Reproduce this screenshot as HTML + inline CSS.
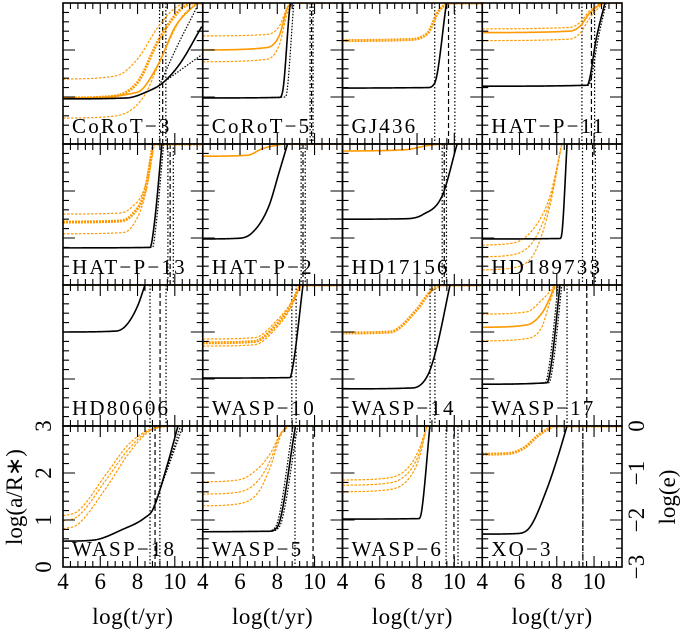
<!DOCTYPE html>
<html><head><meta charset="utf-8"><style>
body{margin:0;background:#fff;}
svg{display:block;font-family:"Liberation Serif",serif;}
</style></head><body>
<svg id="fig" width="683" height="633" viewBox="0 0 683 633"></svg>
<script>
const panelNames = ["CoRoT\u22123","CoRoT\u22125","GJ436","HAT\u2212P\u221211","HAT\u2212P\u221213","HAT\u2212P\u22122","HD17156","HD189733","HD80606","WASP\u221210","WASP\u221214","WASP\u221217","WASP\u221218","WASP\u22125","WASP\u22126","XO\u22123"];
const xTicks = [4,6,8,10];
const yLeftTicks = [0,1,2,3];
const yRightTicks = ["0","\u22121","\u22122","\u22123"];
const seriesCorot3 = [
 {k:"od",p:[[4,1.38],[6.85,1.45],[7.98,1.8],[9.12,2.5],[10.03,2.9],[10.6,3]]},
 {k:"ot",p:[[4,0.98],[6.28,1.0],[7.98,1.3],[9.12,2.2],[10.26,2.85],[10.83,3]]},
 {k:"o",p:[[4,0.97],[7.98,1.1],[9.12,1.7],[10.03,2.5],[11.17,3]]},
 {k:"od",p:[[4,0.55],[6.85,0.6],[8.32,1.0],[9.35,1.9],[10.37,2.7],[11.28,3]]},
 {k:"kd",p:[[9.18,1.25],[10.03,2.0],[11.17,2.9]]},
 {k:"kd",p:[[9.35,1.3],[11.45,1.9]]},
 {k:"k",p:[[4,0.96],[7.41,0.98],[8.55,1.12],[9.35,1.3],[10.26,1.7],[11.45,2.5]]}];
const seriesCorot5 = [
 {k:"o",p:[[4,2.0],[7.41,2.05],[8.1,2.3],[8.55,2.9],[8.78,3]]},
 {k:"od",p:[[4,2.3],[7.41,2.33],[8.1,2.5],[8.55,2.92],[8.7,3]]},
 {k:"od",p:[[4,1.75],[7.41,1.8],[8.1,2.1],[8.55,2.8],[8.84,3]]},
 {k:"kd",p:[[4,0.98],[8.44,1.0],[8.89,3]]},
 {k:"k",p:[[4,0.98],[8.1,0.99],[8.32,1.2],[8.67,2.9],[8.72,3]]}];
const seriesGJ436 = [
 {k:"ot",p:[[4,2.2],[7.41,2.22],[8.55,2.35],[9.12,2.8],[9.58,3]]},
 {k:"k",p:[[4,1.19],[8.55,1.2],[8.95,1.3],[9.58,3]]}];
const seriesHATP11 = [
 {k:"o",p:[[4,2.37],[8.67,2.4],[9.23,2.5],[9.8,2.8],[10.43,3]]},
 {k:"od",p:[[4,2.45],[8.67,2.48],[9.23,2.58],[9.8,2.85],[10.35,3]]},
 {k:"od",p:[[4,2.2],[8.67,2.23],[9.23,2.35],[9.8,2.7],[10.5,3]]},
 {k:"kd",p:[[4,1.23],[9.7,1.25],[9.85,1.4],[10.2,2.2],[10.65,3]]},
 {k:"k",p:[[4,1.23],[9.63,1.25],[9.77,1.4],[10.1,2.2],[10.58,3]]}];
const seriesHATP13 = [
 {k:"od",p:[[4,1.51],[7.0,1.53],[7.7,1.66],[8.4,2.1],[8.84,3]]},
 {k:"ot",p:[[4,1.34],[7.0,1.36],[7.7,1.49],[8.4,2.0],[8.84,3]]},
 {k:"od",p:[[4,1.09],[7.0,1.11],[7.7,1.24],[8.4,1.9],[8.9,3]]},
 {k:"kd",p:[[4,0.79],[8.8,0.8],[9.0,1.3],[9.4,3]]},
 {k:"k",p:[[4,0.79],[8.67,0.8],[8.9,1.3],[9.31,3]]}];
const seriesHATP2 = [
 {k:"o",p:[[4,2.74],[6.39,2.76],[7.2,2.9],[8.27,3]]},
 {k:"k",p:[[4,0.98],[5.71,0.99],[6.62,1.1],[7.53,1.66],[8.1,2.4],[8.55,3]]}];
const seriesHD17156 = [
 {k:"o",p:[[4,2.85],[7.41,2.88],[8.6,2.97],[9.35,3]]},
 {k:"k",p:[[4,1.4],[7.41,1.41],[8.32,1.5],[9.35,1.9],[10.15,3]]}];
const seriesHD189733 = [
 {k:"od",p:[[4,0.85],[5.71,0.9],[6.85,1.25],[7.64,1.9],[8.27,3]]},
 {k:"od",p:[[4,0.6],[5.71,0.65],[6.85,1.0],[7.64,1.8],[8.27,3]]},
 {k:"od",p:[[4,0.32],[5.71,0.37],[6.85,0.72],[7.64,1.7],[8.27,3]]},
 {k:"k",p:[[4,0.98],[8.18,0.99],[8.3,1.2],[8.55,3]]}];
const seriesHD80606 = [
 {k:"o",p:[[4,3],[8.4,3]]},
 {k:"k",p:[[4,2.0],[6.85,2.02],[7.41,2.15],[8.0,2.55],[8.4,3]]}];
const seriesWASP10 = [
 {k:"od",p:[[4,1.85],[6.79,1.88],[7.98,2.25],[8.7,2.6],[9.23,3]]},
 {k:"ot",p:[[4,1.77],[6.79,1.8],[7.98,2.17],[8.7,2.55],[9.23,3]]},
 {k:"od",p:[[4,1.7],[6.79,1.73],[7.98,2.1],[8.7,2.5],[9.23,3]]},
 {k:"k",p:[[4,1.02],[8.67,1.03],[8.85,1.3],[9.38,3]]}];
const seriesWASP14 = [
 {k:"ot",p:[[4,1.98],[6.55,2.0],[7.98,2.47],[8.7,2.85],[9.23,3]]},
 {k:"k",p:[[4,0.79],[7.76,0.81],[8.6,1.1],[9.06,1.68],[9.77,3]]}];
const seriesWASP17 = [
 {k:"od",p:[[4,2.38],[6.39,2.43],[7.2,2.68],[7.6,2.85],[7.9,3]]},
 {k:"o",p:[[4,2.1],[6.39,2.15],[7.2,2.4],[7.6,2.7],[7.9,3]]},
 {k:"od",p:[[4,1.81],[6.39,1.86],[7.2,2.11],[7.6,2.6],[7.95,3]]},
 {k:"kd",p:[[4,0.89],[7.37,0.92],[7.6,1.3],[8.07,3]]},
 {k:"kd",p:[[4,0.89],[7.57,0.92],[7.8,1.3],[8.27,3]]},
 {k:"k",p:[[4,0.89],[7.47,0.92],[7.7,1.3],[8.17,3]]}];
const seriesWASP18 = [
 {k:"od",p:[[4,1.09],[4.8,1.19],[6.36,2.0],[7.5,2.6],[8.6,2.92],[9.4,3]]},
 {k:"od",p:[[4,0.98],[4.8,1.08],[6.36,1.88],[7.5,2.5],[8.6,2.9],[9.5,3]]},
 {k:"od",p:[[4,0.81],[4.8,0.91],[6.36,1.71],[7.5,2.4],[8.6,2.88],[9.6,3]]},
 {k:"kd",p:[[8.83,1.23],[10.44,3]]},
 {k:"kd",p:[[8.83,1.23],[10.0,2.6],[10.3,3]]},
 {k:"k",p:[[4,0.55],[5.6,0.57],[7.2,0.8],[8.4,1.05],[8.83,1.23],[9.58,2.15],[10.17,3]]}];
const seriesWASP5 = [
 {k:"od",p:[[4,1.81],[6.0,1.86],[7.0,2.11],[7.6,2.4],[8.2,2.85],[8.55,3]]},
 {k:"od",p:[[4,1.55],[6.0,1.6],[7.0,1.85],[7.6,2.25],[8.2,2.85],[8.55,3]]},
 {k:"od",p:[[4,1.3],[6.0,1.35],[7.0,1.6],[7.6,2.1],[8.2,2.8],[8.6,3]]},
 {k:"kd",p:[[4,0.75],[7.4,0.76],[7.9,0.85],[8.85,3]]},
 {k:"kd",p:[[4,0.75],[7.6,0.76],[8.1,0.85],[9.1,3]]},
 {k:"k",p:[[4,0.75],[7.5,0.76],[8.0,0.85],[8.98,3]]}];
const seriesWASP6 = [
 {k:"od",p:[[4,1.85],[6.55,1.9],[7.6,2.15],[8.1,2.5],[8.53,3]]},
 {k:"od",p:[[4,1.74],[6.55,1.79],[7.6,2.04],[8.1,2.4],[8.53,3]]},
 {k:"od",p:[[4,1.6],[6.55,1.65],[7.6,1.9],[8.1,2.3],[8.53,3]]},
 {k:"k",p:[[4,1.02],[8.1,1.03],[8.25,1.2],[8.69,3]]}];
const seriesXO3 = [
 {k:"ot",p:[[4,2.4],[5.5,2.42],[6.3,2.55],[7.0,2.8],[7.8,3]]},
 {k:"k",p:[[4,0.7],[5.8,0.71],[6.56,0.85],[7.47,1.66],[8.1,2.4],[8.55,3]]}];
const panelSeries = [seriesCorot3,seriesCorot5,seriesGJ436,seriesHATP11,seriesHATP13,seriesHATP2,seriesHD17156,seriesHD189733,seriesHD80606,seriesWASP10,seriesWASP14,seriesWASP17,seriesWASP18,seriesWASP5,seriesWASP6,seriesXO3];
const panelVLines = [
 [[9.18,"d"],[9.52,"d"],[9.35,"D"]],[[9.76,"d"],[9.92,"d"],[9.84,"D"]],[[8.95,"d"],[10.03,"d"],[9.69,"D"]],[[9.35,"d"],[10.03,"d"],[9.86,"D"]],
 [[9.63,"d"],[9.92,"d"],[9.75,"D"]],[[9.28,"d"],[9.5,"d"],[9.38,"D"]],[[9.35,"d"],[9.58,"d"],[9.46,"D"]],[[9.38,"d"],[10.07,"d"],[9.92,"D"]],
 [[8.67,"d"],[9.53,"d"],[9.21,"D"]],[[8.78,"d"],[9.01,"d"]],[[8.7,"d"],[8.96,"d"]],[[8.55,"d"],[9.61,"D"]],
 [[8.67,"d"],[9.2,"d"],[8.94,"D"]],[[8.95,"d"],[9.92,"D"]],[[9.56,"d"],[10.2,"d"],[9.98,"D"]],[[9.4,"d"],[9.4,"D"]]];

const NS="http://www.w3.org/2000/svg";
const svg=document.getElementById("fig");
const X0=63,PW=139.75,Y0=3,PH=141,TMIN=4,TMAX=11.5,VMAX=3;
function mk(tag,attrs,parent){const e=document.createElementNS(NS,tag);for(const k in attrs)e.setAttribute(k,attrs[k]);(parent||svg).appendChild(e);return e;}
function xs(c,t){return X0+c*PW+(t-TMIN)*PW/(TMAX-TMIN);}
function ys(r,v){return Y0+(r+1)*PH-v*PH/VMAX;}
function monotone(pts){
 const n=pts.length;if(n<2)return pts;
 const d=[],m=[];
 for(let i=0;i<n-1;i++)d.push((pts[i+1][1]-pts[i][1])/(pts[i+1][0]-pts[i][0]));
 m.push(d[0]);for(let i=1;i<n-1;i++){m.push(d[i-1]*d[i]<=0?0:(d[i-1]+d[i])/2);}m.push(d[n-2]);
 for(let i=0;i<n-1;i++){if(d[i]===0){m[i]=0;m[i+1]=0;continue;}const a=m[i]/d[i],b=m[i+1]/d[i],s=a*a+b*b;if(s>9){const tt=3/Math.sqrt(s);m[i]=tt*a*d[i];m[i+1]=tt*b*d[i];}}
 const out=[];
 for(let i=0;i<n-1;i++){const x0=pts[i][0],x1=pts[i+1][0],h=x1-x0;for(let j=0;j<30;j++){const s=j/30,h00=2*s*s*s-3*s*s+1,h10=s*s*s-2*s*s+s,h01=-2*s*s*s+3*s*s,h11=s*s*s-s*s;out.push([x0+s*h,h00*pts[i][1]+h10*h*m[i]+h01*pts[i+1][1]+h11*h*m[i+1]]);}}
 out.push(pts[n-1]);return out;}
const styles={
 k:{stroke:"#000","stroke-width":1.6,fill:"none"},
 kd:{stroke:"#000","stroke-width":1.2,"stroke-dasharray":"1.5,1.5",fill:"none"},
 o:{stroke:"#ff9900","stroke-width":1.6,fill:"none"},
 od:{stroke:"#ff9900","stroke-width":1.2,"stroke-dasharray":"2.5,1.5",fill:"none"},
 ot:{stroke:"#ff9900","stroke-width":3,"stroke-dasharray":"2,1",fill:"none"}};
const defs=mk("defs",{});
for(let i=0;i<16;i++){
 const c=i%4,r=Math.floor(i/4);
 const g=mk("g",{});
 
 
 const cp=mk("clipPath",{id:"cp"+i},defs);
 mk("rect",{x:xs(c,TMIN),y:ys(r,VMAX),width:PW,height:PH},cp);
 const pg=mk("g",{"clip-path":"url(#cp"+i+")"},g);
 panelVLines[i].forEach(vl=>{
  const l=mk("line",{x1:xs(c,vl[0]),x2:xs(c,vl[0]),y1:ys(r,VMAX),y2:ys(r,0),stroke:"#000","stroke-width":1.2,"stroke-dasharray":vl[1]==="d"?"1.5,2":"5,3"},pg);
  
  
 });
 panelSeries[i].forEach(s=>{
  let pts=monotone(s.p).map(p=>[p[0],Math.min(p[1],VMAX)]);
  const last=s.p[s.p.length-1];
  if(s.k[0]==="o"&&last[1]>=VMAX)pts.push([TMAX,VMAX]);
  const d="M"+pts.map(p=>xs(c,p[0]).toFixed(2)+","+ys(r,p[1]).toFixed(2)).join("L");
  const path=mk("path",Object.assign({d:d},styles[s.k]),pg);
  
  
 });
 let td="";
 for(let t=TMIN;t<=TMAX+1e-6;t+=0.4){const maj=Math.abs((t-4)/2-Math.round((t-4)/2))<0.01;const L=maj?11:6;const x=xs(c,t);td+=`M${x},${ys(r,0)}v${-L}M${x},${ys(r,VMAX)}v${L}`;}
 for(let v=0;v<=VMAX+1e-6;v+=0.2){const maj=Math.abs(v-Math.round(v))<0.01;const L=maj?12:6;const y=ys(r,v);td+=`M${xs(c,TMIN)},${y}h${L}M${xs(c,TMAX)},${y}h${-L}`;}
 const tk=mk("path",{d:td,stroke:"#000","stroke-width":1.1,fill:"none"},g);
 
 
 const fr=mk("rect",{x:xs(c,TMIN),y:ys(r,VMAX),width:PW,height:PH,fill:"none",stroke:"#000","stroke-width":1.6},g);
 
 
 const lab=mk("text",{x:xs(c,TMIN)+9,y:ys(r,0)-11,"font-size":21,"letter-spacing":"2.2",fill:"#000"},g);
 lab.textContent=panelNames[i];
 
 
}
for(let c=0;c<4;c++){
 xTicks.forEach(t=>{const e=mk("text",{x:xs(c,t),y:589,"font-size":23,"text-anchor":"middle"});e.textContent=t;
  
  });
 const xl=mk("text",{x:xs(c,TMIN)+PW/2,y:624,"font-size":23,"text-anchor":"middle","letter-spacing":"0.5"});xl.textContent="log(t/yr)";
 
 
}
yLeftTicks.forEach(v=>{const y=ys(3,v);const e=mk("text",{x:0,y:0,"font-size":23,"text-anchor":"middle",transform:`translate(51,${y}) rotate(-90)`});e.textContent=v;
 
 });
yRightTicks.forEach((s,j)=>{const y=ys(3,3-j);const e=mk("text",{x:0,y:0,"font-size":23,"text-anchor":"middle",transform:`translate(644,${y}) rotate(-90)`});e.textContent=s;
 
 });
const yl=mk("text",{x:0,y:0,"font-size":23,"text-anchor":"middle",transform:"translate(22,497) rotate(-90)"});yl.textContent="log(a/R\u2217)";


const yr=mk("text",{x:0,y:0,"font-size":23,"text-anchor":"middle",transform:"translate(675,497) rotate(-90)"});yr.textContent="log(e)";


</script>
</body></html>
